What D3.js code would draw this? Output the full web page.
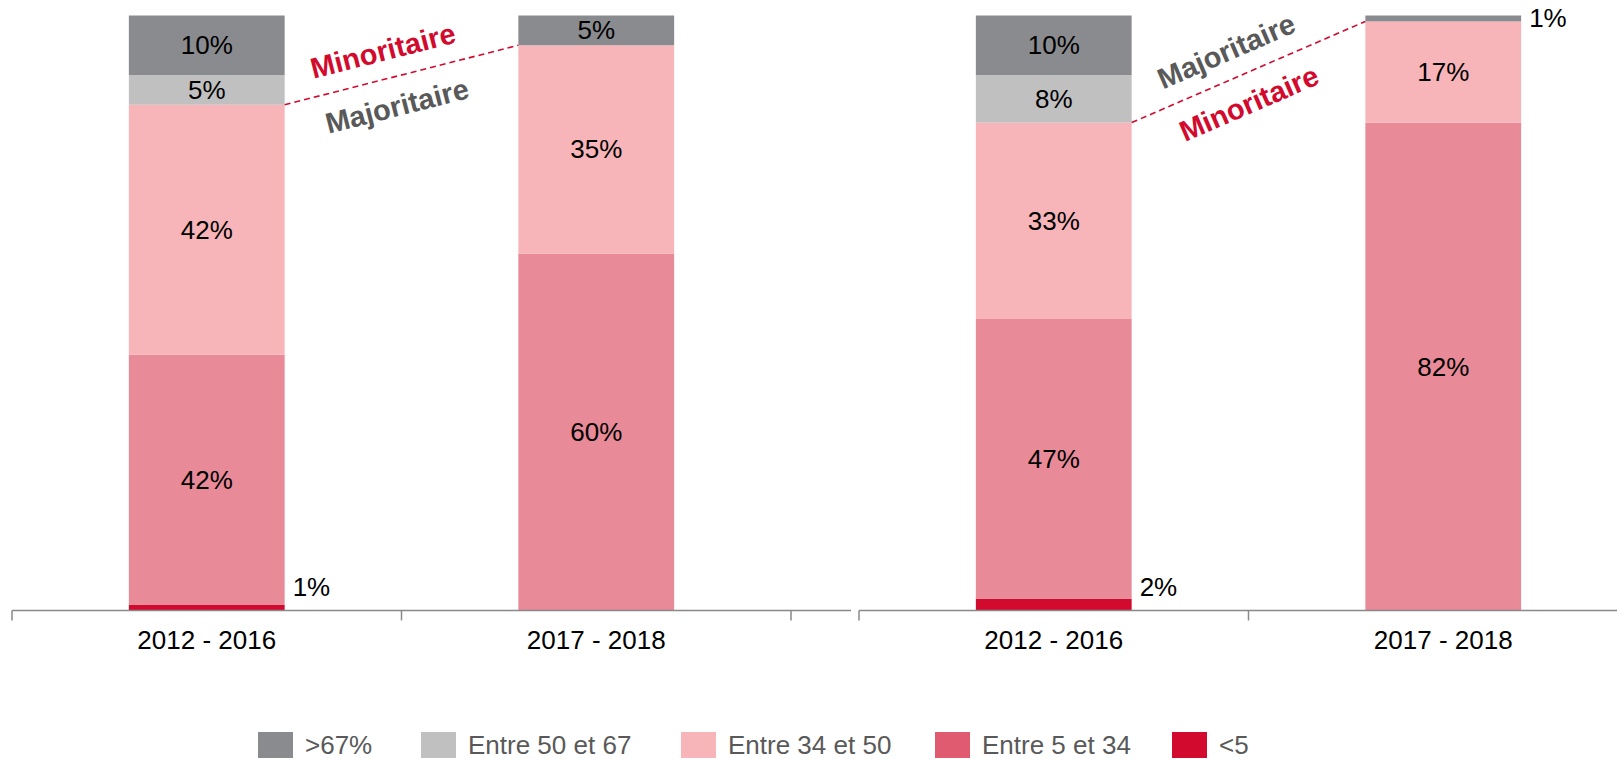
<!DOCTYPE html>
<html>
<head>
<meta charset="utf-8">
<script src="https://cdn.jsdelivr.net/npm/d3@7"></script>
<style>
  body { margin: 0; background: #fff; }
  text { font-family: 'Liberation Sans', Arial, Helvetica, sans-serif; }
</style>
</head>
<body>
<div id="container"></div>
<script>
'use strict';

const w = 1617;
const h = 759;

// data
const categories = ['>67%', 'Entre 50 et 67', 'Entre 34 et 50', 'Entre 5 et 34', '<5'];
const periods = ['2012 - 2016', '2017 - 2018'];
const leftValues = [
    [10, 5],
    [5, 0],
    [42, 35],
    [42, 60],
    [1, 0]
];
const rightValues = [
    [10, 1],
    [8, 0],
    [33, 17],
    [47, 82],
    [2, 0]
];

const barColors = ['#8a8b8f', '#c0c0c0', '#f7b5b9', '#e88a98', '#d20a2e'];
const legendColors = ['#8a8b8f', '#c0c0c0', '#f7b5b9', '#e05a70', '#d20a2e'];

const plotTop = 15.5;
const plotBottom = 610.5;

const svg = d3.select('#container')
    .append('svg')
    .attr('width', w)
    .attr('height', h)
    .attr('viewBox', '0 0 ' + w + ' ' + h);

const yScale = d3.scaleLinear().domain([0, 100]).range([plotBottom, plotTop]);

function drawPanel(values, x0, x1, upperLabel, lowerLabel) {
    const g = svg.append('g');
    const xScale = d3.scaleBand()
        .domain(periods)
        .range([x0, x1])
        .paddingInner(0.6)
        .paddingOuter(0.3);

    // stack from bottom (<5) to top (>67%)
    const rows = periods.map((p, i) => {
        const r = { period: p };
        categories.forEach((c, k) => { r[c] = values[k][i]; });
        return r;
    });
    const series = d3.stack().keys(categories.slice().reverse())(rows);

    series.forEach((s) => {
        const k = categories.indexOf(s.key);
        s.forEach((d, i) => {
            const v = d[1] - d[0];
            if (v <= 0) return;
            const yT = yScale(d[1]);
            const yB = yScale(d[0]);
            const bx = xScale(periods[i]);
            g.append('rect')
                .attr('x', bx)
                .attr('y', yT)
                .attr('width', xScale.bandwidth())
                .attr('height', yB - yT)
                .attr('fill', barColors[k]);
            const label = g.append('text')
                .text(v + '%')
                .attr('font-size', 26)
                .attr('fill', '#000')
                .attr('dominant-baseline', 'central');
            if (v >= 3) {
                label.attr('x', bx + xScale.bandwidth() / 2)
                    .attr('y', (yT + yB) / 2)
                    .attr('text-anchor', 'middle');
            } else {
                // small slices get their label beside the bar
                const shift = d[0] === 0 ? -15 - (3 - v) * 3 : 0;
                label.attr('x', bx + xScale.bandwidth() + 8)
                    .attr('y', (yT + yB) / 2 + shift)
                    .attr('text-anchor', 'start');
            }
        });
    });

    // dashed line at the majority / minority split (top of 34-50 slice)
    const split = (i) => values[2][i] + values[3][i] + values[4][i];
    const xa = xScale(periods[0]) + xScale.bandwidth();
    const ya = yScale(split(0));
    const xb = xScale(periods[1]);
    const yb = yScale(split(1));
    g.append('line')
        .attr('x1', xa).attr('y1', ya)
        .attr('x2', xb).attr('y2', yb)
        .attr('stroke', '#d20a2e')
        .attr('stroke-width', 1.6)
        .attr('stroke-dasharray', '6,4');

    const a = Math.atan2(yb - ya, xb - xa);
    const mx = (xa + xb) / 2;
    const my = (ya + yb) / 2;
    const n = [Math.sin(a), -Math.cos(a)];
    const t = [Math.cos(a), Math.sin(a)];
    [[upperLabel, 28], [lowerLabel, -29]].forEach(([lab, off]) => {
        const cx = mx + n[0] * off - t[0] * 12;
        const cy = my + n[1] * off - t[1] * 12;
        g.append('text')
            .text(lab.text)
            .attr('font-size', 29)
            .attr('font-weight', 'bold')
            .attr('fill', lab.color)
            .attr('text-anchor', 'middle')
            .attr('dominant-baseline', 'central')
            .attr('transform', 'translate(' + cx + ',' + cy + ') rotate(' + (a * 180 / Math.PI) + ')');
    });

    // axis
    g.append('line')
        .attr('x1', x0).attr('x2', x1 + 60)
        .attr('y1', plotBottom).attr('y2', plotBottom)
        .attr('stroke', '#898989')
        .attr('stroke-width', 1.5);
    g.selectAll('.tick')
        .data([x0, (x0 + x1) / 2, x1])
        .enter()
        .append('line')
        .attr('x1', (d) => d).attr('x2', (d) => d)
        .attr('y1', plotBottom).attr('y2', plotBottom + 10)
        .attr('stroke', '#898989')
        .attr('stroke-width', 1.5);
    g.selectAll('.xlab')
        .data(periods)
        .enter()
        .append('text')
        .text((d) => d)
        .attr('x', (d) => xScale(d) + xScale.bandwidth() / 2)
        .attr('y', 640)
        .attr('dominant-baseline', 'central')
        .attr('text-anchor', 'middle')
        .attr('font-size', 26)
        .attr('fill', '#000');
}

const red = '#d20a2e';
const grey = '#595959';

drawPanel(leftValues, 12, 791,
    { text: 'Minoritaire', color: red },
    { text: 'Majoritaire', color: grey });
drawPanel(rightValues, 859, 1638,
    { text: 'Majoritaire', color: grey },
    { text: 'Minoritaire', color: red });

// legend
const legendX = [258, 421, 681, 935, 1172];
const legend = svg.append('g');
categories.forEach((c, i) => {
    legend.append('rect')
        .attr('x', legendX[i])
        .attr('y', 732)
        .attr('width', 35)
        .attr('height', 26)
        .attr('fill', legendColors[i]);
    legend.append('text')
        .text(c)
        .attr('x', legendX[i] + 47)
        .attr('y', 745)
        .attr('dominant-baseline', 'central')
        .attr('font-size', 26)
        .attr('fill', '#595959');
});
</script>
</body>
</html>
